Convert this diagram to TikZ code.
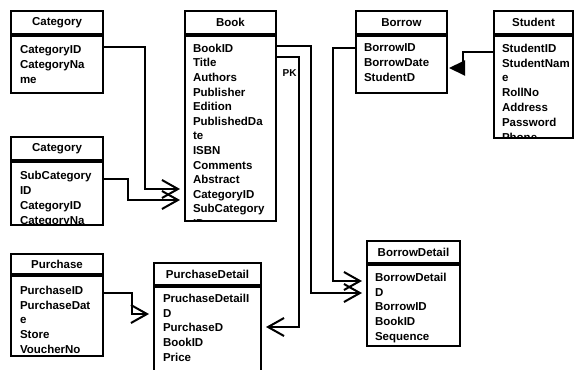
\documentclass[tikz,border=0pt]{standalone}
\usepackage{fontspec}
\setmainfont{Liberation Sans}
\usetikzlibrary{arrows.meta,positioning}

\begin{document}
\begin{tikzpicture}
        [
            x = 1pt, y = -1pt,
            line width = 2pt,
            head/.style = {
                draw, rectangle, anchor=north west, inner sep=0pt,
                font=\bfseries\fontsize{11.5}{14.8}\selectfont,
                minimum height=23pt},
            body/.style = {draw, rectangle, inner sep=0pt},
            fields/.style = {
                inner sep=0pt, align=left,
                font=\bfseries\fontsize{11.5}{14.8}\selectfont},
            many/.style = {-{Straight Barb[length=16pt,width=18pt]}, shorten > = 4pt},
            one/.style = {-{Triangle[length=16pt,width=15pt]}, shorten > = 1pt},
            pk/.style = {font=\bfseries\fontsize{10}{12}\selectfont, inner sep=0pt}
        ]
        \path [use as bounding box, clip] (0,0) rectangle (574,370);

        % tables
        \node [head, minimum width=92pt] (CatA) at (10,10) {Category};
        \node [body, minimum width=92pt, minimum height=57pt, below=0pt of CatA] (CatA body) {};
        \node [fields, below right=9.5pt and 9pt of CatA body.north west] (CatA fields) {CategoryID\\CategoryNa\\me};

        \node [head, minimum width=91pt] (Book) at (184,10) {Book};
        \node [body, minimum width=91pt, minimum height=185pt, below=0pt of Book] (Book body) {};
        \begin{scope}
            \clip ([yshift=1pt]Book body.south west) rectangle (Book body.north east);
            \node [fields, font=\bfseries\fontsize{11.5}{14.6}\selectfont,
                below right=8pt and 8pt of Book body.north west] (Book fields)
                {BookID\\Title\\Authors\\Publisher\\Edition\\PublishedDa\\te\\ISBN\\Comments\\Abstract\\CategoryID\\SubCategory\\ID};
        \end{scope}

        \node [head, minimum width=91pt] (Borrow) at (355,10) {Borrow};
        \node [body, minimum width=91pt, minimum height=57pt, below=0pt of Borrow] (Borrow body) {};
        \node [fields, below right=8pt and 8pt of Borrow body.north west] (Borrow fields) {BorrowID\\BorrowDate\\StudentD};

        \node [head, minimum width=79pt] (Student) at (493,10) {Student};
        \node [body, minimum width=79pt, minimum height=102pt, below=0pt of Student] (Student body) {};
        \begin{scope}
            \clip ([yshift=1pt]Student body.south west) rectangle (Student body.north east);
            \node [fields, below right=8pt and 8pt of Student body.north west] (Student fields)
                {StudentID\\StudentNam\\e\\RollNo\\Address\\Password\\Phone};
        \end{scope}

        \node [head, minimum width=92pt] (CatB) at (10,136) {Category};
        \node [body, minimum width=92pt, minimum height=63pt, below=0pt of CatB] (CatB body) {};
        \begin{scope}
            \clip ([yshift=1pt]CatB body.south west) rectangle (CatB body.north east);
            \node [fields, below right=9.5pt and 9pt of CatB body.north west] (CatB fields)
                {SubCategory\\ID\\CategoryID\\CategoryNa\\me};
        \end{scope}

        \node [head, minimum width=92pt, minimum height=20pt] (Purchase) at (10,253) {Purchase};
        \node [body, minimum width=92pt, minimum height=80pt, below=0pt of Purchase] (Purchase body) {};
        \node [fields, below right=10pt and 9pt of Purchase body.north west] (Purchase fields)
            {PurchaseID\\PurchaseDat\\e\\Store\\VoucherNo};

        \node [head, minimum width=107pt, minimum height=22pt] (PurchDet) at (153,262) {PurchaseDetail};
        \node [body, minimum width=107pt, minimum height=100pt, below=0pt of PurchDet] (PurchDet body) {};
        \node [fields, below right=7pt and 9pt of PurchDet body.north west] (PurchDet fields)
            {PruchaseDetailI\\D\\PurchaseD\\BookID\\Price};

        \node [head, minimum width=93pt, minimum height=22pt] (BorrowDet) at (366,240) {BorrowDetail};
        \node [body, minimum width=93pt, minimum height=81pt, below=0pt of BorrowDet] (BorrowDet body) {};
        \node [fields, below right=8pt and 8pt of BorrowDet body.north west] (BorrowDet fields)
            {BorrowDetail\\D\\BorrowID\\BookID\\Sequence};

        % relations
        \draw [many] ([yshift=-12pt]CatA body.north east) -- ++(41,0) |- ([yshift=-154pt]Book body.north west);
        \draw [many] ([yshift=-18pt]CatB body.north east) -- ++(24,0) |- ([yshift=-165pt]Book body.north west);
        \draw [many] ([yshift=-11pt]Book body.north east) -- ++(34,0) |- ([yshift=-29pt]BorrowDet body.north west);
        \draw [many] ([yshift=-22pt]Book body.north east) -- ++(22,0)
            node [pk, anchor=north east, xshift=-1.5pt, yshift=-12pt] (PK) {PK}
            |- ([yshift=-41pt]PurchDet body.north east);
        \draw [many] ([yshift=-13pt]Borrow body.north west) -- ++(-22,0) |- ([yshift=-17pt]BorrowDet body.north west);
        \draw [one] ([yshift=-17pt]Student body.north west) -- ++(-30,0) |- ([yshift=-33pt]Borrow body.north east);
        \draw [many] ([yshift=-18pt]Purchase body.north east) -- ++(28,0) |- ([yshift=-28pt]PurchDet body.north west);
    \end{tikzpicture}
\end{document}
